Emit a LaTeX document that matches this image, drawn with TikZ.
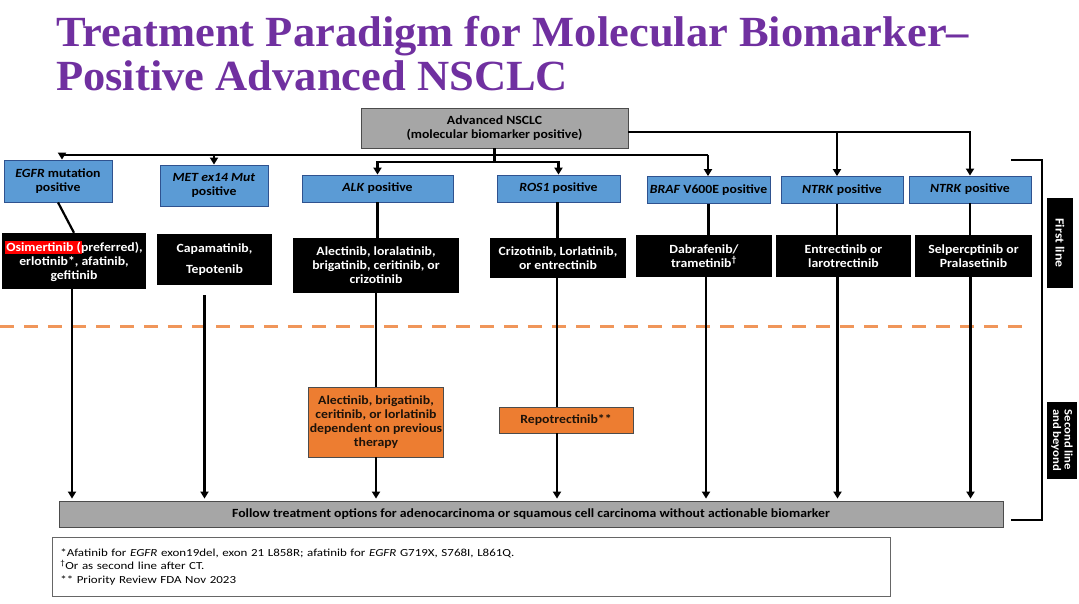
\documentclass[tikz,border=0pt]{standalone}
\usepackage{fontspec}
\newfontfamily\calib[FakeStretch=1.1]{Carlito}
\newfontfamily\notefont[FakeStretch=1.2]{Carlito}
\newfontfamily\headfont[FakeStretch=1.035]{Liberation Serif}
\usetikzlibrary{arrows.meta}
\definecolor{titlepurple}{RGB}{112,48,160}
\definecolor{boxblue}{RGB}{91,155,213}
\definecolor{boxedge}{RGB}{47,82,143}
\definecolor{boxgray}{RGB}{166,166,166}
\definecolor{boxorange}{RGB}{237,125,49}
\definecolor{dashorange}{RGB}{240,150,90}

\begin{document}
\begin{tikzpicture}[x=1pt,y=-1pt,
    every node/.style={font=\calib\fontsize{12.5}{14}\selectfont\bfseries, align=center, inner sep=1pt},
    marker/.style={draw=boxedge, fill=boxblue, line width=0.8pt, minimum height=27pt},
    drug/.style={fill=black, text=white, minimum height=42pt},
    later/.style={draw=black!70, fill=boxorange, text=black!85!brown, line width=0.8pt},
    greybox/.style={draw=black!70, fill=boxgray, line width=0.8pt},
    sidebox/.style={fill=black, text=white, rotate=-90},
    conn/.style={line width=2.2pt},
    arr/.style={line width=2.2pt, shorten >=2pt, -{Triangle[length=7pt,width=8pt]}}]
    \useasboundingbox (0,0) rectangle (1079,604);

    \node[anchor=base west, text=titlepurple, font=\headfont\fontsize{43}{48}\selectfont\bfseries] (title1) at (55,47) {Treatment Paradigm for Molecular Biomarker–};
    \node[anchor=base west, text=titlepurple, font=\headfont\fontsize{43}{48}\selectfont\bfseries] (title2) at (55,91) {Positive Advanced NSCLC};

    \node[greybox, minimum width=267pt, minimum height=40pt] (top) at (494.5,128) {Advanced NSCLC\\(molecular biomarker positive)};

    \node[marker, minimum width=108pt, minimum height=42pt] (egfr) at (58,181) {\textit{EGFR} mutation\\positive};
    \node[marker, minimum width=108pt, minimum height=41pt] (met) at (214,185.5) {\textit{MET ex14 Mut}\\positive};
    \node[marker, minimum width=151pt] (alk) at (377.5,188.5) {\textit{ALK} positive};
    \node[marker, minimum width=123pt] (ros) at (558.5,188.5) {\textit{ROS1} positive};
    \node[marker, minimum width=123pt] (braf) at (708.5,190) {\textit{BRAF} V600E positive};
    \node[marker, minimum width=122pt] (ntrk) at (842,190) {\textit{NTRK} positive};
    \node[marker, minimum width=122pt] (ret) at (970,189.5) {\textit{NTRK} positive};

    \node[drug, minimum width=144pt, minimum height=56pt] (egfrtx) at (74,261) {{\fboxsep=1pt\colorbox{red}{Osimertinib (}}\hspace{-1pt}preferred),\\erlotinib*, afatinib,\\gefitinib};
    \node[drug, minimum width=115pt, minimum height=51pt] (mettx) at (214.5,259.5) {Capamatinib,\\[7pt]Tepotenib};
    \node[drug, minimum width=166pt, minimum height=55pt] (alktx) at (376,265.5) {Alectinib, loralatinib,\\brigatinib, ceritinib, or\\crizotinib};
    \node[drug, minimum width=136pt, minimum height=40pt] (rostx) at (558,258) {Crizotinib, Lorlatinib,\\or entrectinib};
    \node[drug, minimum width=136pt] (braftx) at (704,256) {Dabrafenib/\\trametinib\textsuperscript{†}};
    \node[drug, minimum width=135pt] (ntrktx) at (843.5,256) {Entrectinib or\\larotrectinib};
    \node[drug, minimum width=117pt] (rettx) at (973.5,256) {Selpercptinib or\\Pralasetinib};

    \node[sidebox, minimum width=90pt, minimum height=26pt] (first) at (1060,243) {First line};
    \node[sidebox, minimum width=77pt, minimum height=30pt, font=\calib\fontsize{11.5}{11.5}\selectfont\bfseries] (second) at (1062,440) {Second line\\and beyond};

    \draw[dashorange, line width=3pt, dash pattern=on 14pt off 10pt] (0,326) -- (1031,326);
    \draw[conn] (1011,160) -- (1042,160) -- (1042,520) -- (1011,520);

    \coordinate (busL) at (62,155);
    \coordinate (busR) at (708,155);
    \coordinate (fork) at (494.5,162);
    \coordinate (ntrkin) at ([xshift=-5pt]ntrk.north);
    \coordinate (ntrkmid) at ([xshift=-5pt]ntrk.south);
    \draw[conn] (busL) -- (busR);
    \draw[arr, shorten >=0pt] (busL) -- (busL |- egfr.north);
    \draw[arr, shorten >=0pt] (met.north |- busL) -- (met.north);
    \draw[arr, shorten >=0pt] (busR) -- (busR |- braf.north);
    \draw[conn] (top.south) -- (fork);
    \draw[arr, shorten >=0pt] (fork) -| (alk.north);
    \draw[arr, shorten >=0pt] (fork) -| (ros.north);
    \draw[arr, shorten >=0pt] ([yshift=-4pt]top.east) -| (ret.north);
    \draw[arr, shorten >=0pt] ([yshift=-4pt]top.east -| ntrkin) -- (ntrkin);

    \draw[conn] (egfr.south) -- (egfrtx.north);
    \draw[conn] (alk.south) -- (alk.south |- alktx.north);
    \draw[conn] ([xshift=-1pt]ros.south) -- ([xshift=-1pt]ros.south |- rostx.north);
    \draw[conn] (braf.south) -- (braf.south |- braftx.north);
    \draw[conn] (ntrkmid) -- (ntrkmid |- ntrktx.north);
    \draw[conn] (ret.south) -- (ret.south |- rettx.north);

    \coordinate (egfrbot) at ([xshift=-2pt]egfrtx.south);
    \coordinate (metbot) at ([xshift=-10pt,yshift=-10pt]mettx.south);
    \coordinate (rosbot) at ([xshift=-1pt]rostx.south);
    \coordinate (brafbot) at ([xshift=2pt]braftx.south);
    \coordinate (ntrkbot) at ([xshift=-6pt]ntrktx.south);
    \coordinate (retbot) at ([xshift=-3pt]rettx.south);
    \draw[conn] (rosbot) -- (rosbot |- 0,420);

    \node[later, minimum width=134pt, minimum height=70pt] (alk2) at (376,422) {Alectinib, brigatinib,\\ceritinib, or lorlatinib\\dependent on previous\\therapy};
    \node[later, minimum width=134pt, minimum height=26pt] (ros2) at (566,420) {Repotrectinib**};

    \node[greybox, minimum width=944pt, minimum height=26pt] (fol) at (531,514) {Follow treatment options for adenocarcinoma or squamous cell carcinoma without actionable biomarker};

    \node[draw=black!60, line width=0.6pt, anchor=north west, text width=822pt, inner xsep=8pt, minimum height=59pt, align=left, font=\notefont\fontsize{10.8}{13.3}\selectfont] (notes) at (52,537) {*Afatinib for \textit{EGFR} exon19del, exon 21 L858R; afatinib for \textit{EGFR} G719X, S768I, L861Q.\\\textsuperscript{†}Or as second line after CT.\\{}** Priority Review FDA Nov 2023};

    \draw[arr] (egfrbot) -- (egfrbot |- fol.north);
    \draw[arr] (metbot) -- (metbot |- fol.north);
    \draw[conn] (alktx.south) -- (alk2.north);
    \draw[arr] (alk2.south) -- (alk2.south |- fol.north);
    \draw[arr] (rosbot |- ros2.south) -- (rosbot |- fol.north);
    \draw[arr] (brafbot) -- (brafbot |- fol.north);
    \draw[arr] (ntrkbot) -- (ntrkbot |- fol.north);
    \draw[arr] (retbot) -- (retbot |- fol.north);
\end{tikzpicture}
\end{document}
